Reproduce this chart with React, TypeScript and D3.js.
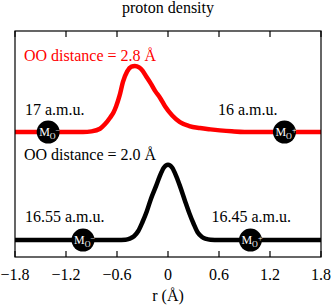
import React from 'react';
import * as d3 from 'd3';

// r (Å) sample points, density normalised to the peak
const redR = [-1.8, -1.0, -0.9, -0.8, -0.74, -0.68, -0.64, -0.61, -0.57, -0.53, -0.48, -0.43, -0.39, -0.34, -0.3, -0.26, -0.2, -0.15, -0.094, -0.035, 0.05, 0.14, 0.25, 0.376, 0.5, 0.61, 0.75, 0.9, 1.8];
const redDensity = [0, 0, 0.01, 0.05, 0.12, 0.22, 0.3, 0.39, 0.55, 0.76, 0.92, 0.99, 1.0, 0.98, 0.93, 0.85, 0.73, 0.62, 0.52, 0.39, 0.25, 0.15, 0.09, 0.06, 0.04, 0.025, 0.01, 0, 0];

const blackR = [-1.8, -0.6, -0.5, -0.45, -0.4, -0.35, -0.3, -0.25, -0.2, -0.14, -0.1, -0.05, 0, 0.05, 0.1, 0.14, 0.2, 0.25, 0.3, 0.35, 0.4, 0.45, 0.5, 0.6, 1.8];
const blackDensity = [0, 0, 0.005, 0.02, 0.05, 0.12, 0.24, 0.38, 0.55, 0.72, 0.84, 0.96, 1, 0.96, 0.84, 0.72, 0.52, 0.36, 0.22, 0.1, 0.04, 0.015, 0.005, 0, 0];

const xTicks = [-1.8, -1.2, -0.6, 0, 0.6, 1.2, 1.8];
const xTickLabels = ['\u22121.8', '\u22121.2', '\u22120.6', '0', '0.6', '1.2', '1.8'];

// oxygen positions (Å) on each curve
const redOxygens = [
  { r: -1.41, sign: '\u2212' },
  { r: 1.37, sign: '+' },
];
const blackOxygens = [
  { r: -1.0, sign: '\u2212' },
  { r: 0.97, sign: '+' },
];

const W = 332;
const H = 307;
const m = { left: 15, right: 11, top: 31, bottom: 50 };
const font = "'Liberation Serif', 'Times New Roman', Times, 'DejaVu Serif', 'Noto Serif', serif";

// vertical placement of the two offset curves (y units)
const redBase = 0.553;
const redScale = 0.292;
const blackBase = 0.075;
const blackScale = 0.333;

export default function App() {
  const x = d3.scaleLinear().domain([-1.8, 1.8]).range([m.left, W - m.right]);
  const y = d3.scaleLinear().domain([0, 1]).range([H - m.bottom, m.top]);

  const redLine = d3.line<number>()
    .x((d, i) => x(redR[i]))
    .y(d => y(redBase + d * redScale))
    .curve(d3.curveMonotoneX);
  const blackLine = d3.line<number>()
    .x((d, i) => x(blackR[i]))
    .y(d => y(blackBase + d * blackScale))
    .curve(d3.curveMonotoneX);

  const x0 = m.left, x1 = W - m.right, y0 = m.top, y1 = H - m.bottom;

  const oxygen = (r: number, sign: string, base: number, key: string) => {
    const cx = x(r);
    const cy = y(base);
    return (
      <g key={key}>
        <circle cx={cx} cy={cy} r={11.5} fill="#000" />
        <text x={cx - 9} y={cy + 4} fill="#fff" fontSize={12}>
          M
          <tspan fontSize={8} dy={3}>O</tspan>
          <tspan fontSize={8} dy={-6}>{sign}</tspan>
        </text>
      </g>
    );
  };

  return (
    <svg width={W} height={H} style={{ position: 'absolute', left: 0, top: 0 }}>
      <rect width={W} height={H} fill="#fff" />
      <g style={{ fontFamily: font }}>
        <text x={(x0 + x1) / 2} y={13} textAnchor="middle" fontSize={16}>proton density</text>

        <path d={redLine(redDensity) || ''} fill="none" stroke="#ff0000" strokeWidth={4.5} />
        <path d={blackLine(blackDensity) || ''} fill="none" stroke="#000" strokeWidth={4.5} />

        {redOxygens.map((o, i) => oxygen(o.r, o.sign, redBase, 'r' + i))}
        {blackOxygens.map((o, i) => oxygen(o.r, o.sign, blackBase, 'b' + i))}

        <text x={24} y={61} fontSize={16} fill="#ff0000">OO distance = 2.8 Å</text>
        <text x={25} y={115} fontSize={16}>17 a.m.u.</text>
        <text x={218} y={115} fontSize={16}>16 a.m.u.</text>
        <text x={24} y={159.5} fontSize={16}>OO distance = 2.0 Å</text>
        <text x={25} y={221.5} fontSize={16}>16.55 a.m.u.</text>
        <text x={211.5} y={221.5} fontSize={16}>16.45 a.m.u.</text>

        <rect x={x0} y={y0} width={x1 - x0} height={y1 - y0} fill="none" stroke="#000" strokeWidth={1.2} />
        {xTicks.map((t, i) => (
          <g key={t}>
            <line x1={x(t)} x2={x(t)} y1={y0} y2={y0 + 6} stroke="#000" strokeWidth={1.2} />
            <line x1={x(t)} x2={x(t)} y1={y1} y2={y1 - 6} stroke="#000" strokeWidth={1.2} />
            <text x={x(t)} y={280} textAnchor="middle" fontSize={16}>{xTickLabels[i]}</text>
          </g>
        ))}
        <text x={(x0 + x1) / 2} y={301} textAnchor="middle" fontSize={16}>r (Å)</text>
      </g>
    </svg>
  );
}
